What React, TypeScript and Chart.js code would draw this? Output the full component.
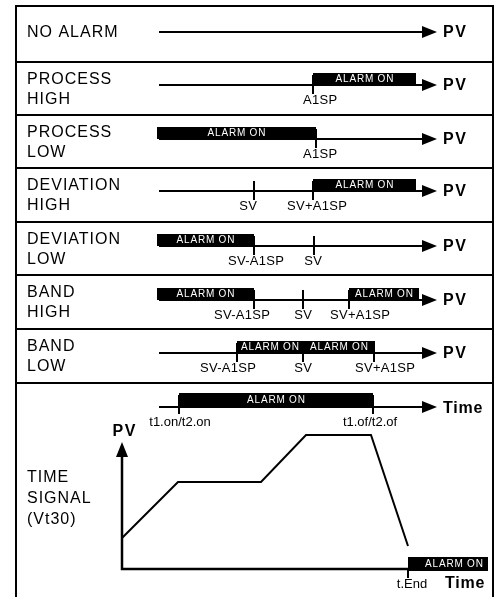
import React, { useEffect, useRef } from "react";
import { Chart, registerables } from "chart.js";
Chart.register(...registerables);

type Seg = [number, number];

// Canvas / diagram units (1 unit = 1 px)
const W = 498;
const H = 597;

// Frame
const FRAME_LEFT = 16;
const FRAME_RIGHT = 493;
const FRAME_BOTTOM = 600;
const ROW_TOPS = [6, 62, 115, 168, 222, 275, 329, 383];

// Row labels
const ROW_LABELS: string[][] = [
  ["NO ALARM"],
  ["PROCESS", "HIGH"],
  ["PROCESS", "LOW"],
  ["DEVIATION", "HIGH"],
  ["DEVIATION", "LOW"],
  ["BAND", "HIGH"],
  ["BAND", "LOW"],
  ["TIME", "SIGNAL", "(Vt30)"],
];
const ROW_LABEL_OFFSETS: number[][] = [
  [27],
  [18, 38],
  [18, 38],
  [18, 38],
  [18, 38],
  [18, 38],
  [18, 38],
  [95, 116, 137],
];

// PV axes of the alarm rows
const PV_START = 159;
const PV_TIP = 437;
const PV_LINE_Y = [32, 85, 139, 191, 246, 300, 353];
const ALARM_BARS: Seg[][] = [
  [],
  [[313, 416]],
  [[157, 316]],
  [[313, 416]],
  [[157, 254]],
  [[157, 254], [349, 419]],
  [[237, 303], [303, 375]],
];
const MARK_X: number[][] = [[], [313], [316], [254, 313], [254, 314], [254, 303, 349], [237, 303, 374]];
const MARK_TEXT: string[][] = [
  [],
  ["A1SP"],
  ["A1SP"],
  ["SV", "SV+A1SP"],
  ["SV-A1SP", "SV"],
  ["SV-A1SP", "SV", "SV+A1SP"],
  ["SV-A1SP", "SV", "SV+A1SP"],
];
const MARK_TEXT_X: number[][] = [[], [320], [320], [248, 317], [256, 313], [242, 303, 360], [228, 303, 385]];

// Time signal row
const TIME_LINE_Y = 407;
const TIME_BAR: Seg = [179, 373];
const TIME_MARK_X = [179, 373];
const TIME_MARK_TEXT = ["t1.on/t2.on", "t1.of/t2.of"];
const TIME_MARK_TEXT_X = [180, 370];

// PV vs time graph
const AXIS_X = 122;
const AXIS_BASE_Y = 569;
const AXIS_TOP_Y = 442;
const AXIS_RIGHT_X = 410;
const CURVE_T = [122, 178, 261, 306, 371, 408];
const CURVE_PV = [538, 482, 482, 435, 435, 546];
const END_BAR: Seg = [408, 488];
const END_MARK_X = 408;

const BAR_H = 12;
const FONT = "'Liberation Sans', Arial, Helvetica, sans-serif";

function lineDs(points: { x: number; y: number }[], width = 2, order = 1, cap: CanvasLineCap = "butt") {
  return {
    data: points,
    showLine: true,
    borderColor: "#000",
    backgroundColor: "#000",
    borderWidth: width,
    borderCapStyle: cap,
    borderJoinStyle: "miter" as CanvasLineJoin,
    pointRadius: 0,
    pointHoverRadius: 0,
    fill: false,
    clip: false as any,
    tension: 0,
    order,
  };
}

function buildDatasets() {
  const ds: any[] = [];
  // frame
  ds.push(
    lineDs(
      [
        { x: FRAME_LEFT, y: FRAME_BOTTOM },
        { x: FRAME_LEFT, y: ROW_TOPS[0] },
        { x: FRAME_RIGHT, y: ROW_TOPS[0] },
        { x: FRAME_RIGHT, y: FRAME_BOTTOM },
      ],
      2
    )
  );
  ROW_TOPS.slice(1).forEach((y) =>
    ds.push(lineDs([{ x: FRAME_LEFT, y }, { x: FRAME_RIGHT, y }], 2))
  );
  // alarm rows
  PV_LINE_Y.forEach((y, r) => {
    ds.push(lineDs([{ x: PV_START, y }, { x: PV_TIP - 8, y }], 2));
    ALARM_BARS[r].forEach(([a, b]) =>
      ds.push(lineDs([{ x: a, y: y - BAR_H / 2 }, { x: b, y: y - BAR_H / 2 }], BAR_H, 0))
    );
    MARK_X[r].forEach((x) => ds.push(lineDs([{ x, y: y - 10 }, { x, y: y + 9 }], 2)));
  });
  // time row
  ds.push(lineDs([{ x: PV_START, y: TIME_LINE_Y }, { x: PV_TIP - 8, y: TIME_LINE_Y }], 2));
  ds.push(
    lineDs(
      [
        { x: TIME_BAR[0], y: TIME_LINE_Y - 7 },
        { x: TIME_BAR[1], y: TIME_LINE_Y - 7 },
      ],
      14,
      0
    )
  );
  TIME_MARK_X.forEach((x) =>
    ds.push(lineDs([{ x, y: TIME_LINE_Y - 12 }, { x, y: TIME_LINE_Y + 7 }], 2))
  );
  // graph axes
  ds.push(
    lineDs(
      [
        { x: AXIS_X, y: AXIS_TOP_Y + 10 },
        { x: AXIS_X, y: AXIS_BASE_Y },
        { x: AXIS_RIGHT_X, y: AXIS_BASE_Y },
      ],
      2.5
    )
  );
  ds.push(lineDs(CURVE_T.map((t, i) => ({ x: t, y: CURVE_PV[i] })), 2));
  ds.push(
    lineDs(
      [
        { x: END_BAR[0], y: AXIS_BASE_Y + 2 - 7 },
        { x: END_BAR[1], y: AXIS_BASE_Y + 2 - 7 },
      ],
      14,
      0
    )
  );
  ds.push(lineDs([{ x: END_MARK_X, y: AXIS_BASE_Y }, { x: END_MARK_X, y: AXIS_BASE_Y + 9 }], 2));
  return ds;
}

const diagramPlugin = {
  id: "diagram",
  afterDatasetsDraw(chart: any) {
    const ctx: CanvasRenderingContext2D = chart.ctx;
    const xs = chart.scales.x;
    const ys = chart.scales.y;
    const px = (v: number) => xs.getPixelForValue(v);
    const py = (v: number) => ys.getPixelForValue(v);

    const text = (
      s: string,
      x: number,
      y: number,
      size: number,
      opts: { bold?: boolean; color?: string; align?: CanvasTextAlign; spacing?: number } = {}
    ) => {
      ctx.save();
      ctx.font = `${opts.bold ? "bold " : ""}${size}px ${FONT}`;
      ctx.fillStyle = opts.color || "#000";
      (ctx as any).letterSpacing = `${opts.spacing ?? 0}px`;
      ctx.textBaseline = "middle";
      let align = opts.align || "left";
      let xx = px(x);
      if (align === "center") {
        const w = ctx.measureText(s).width - (opts.spacing ?? 0);
        xx = xx - w / 2;
      }
      ctx.textAlign = "left";
      ctx.fillText(s, xx, py(y));
      ctx.restore();
    };

    const arrowRight = (tip: number, y: number) => {
      ctx.save();
      ctx.fillStyle = "#000";
      ctx.beginPath();
      ctx.moveTo(px(tip), py(y));
      ctx.lineTo(px(tip - 15), py(y - 6));
      ctx.lineTo(px(tip - 15), py(y + 6));
      ctx.closePath();
      ctx.fill();
      ctx.restore();
    };
    const arrowUp = (x: number, tip: number) => {
      ctx.save();
      ctx.fillStyle = "#000";
      ctx.beginPath();
      ctx.moveTo(px(x), py(tip));
      ctx.lineTo(px(x - 6), py(tip + 15));
      ctx.lineTo(px(x + 6), py(tip + 15));
      ctx.closePath();
      ctx.fill();
      ctx.restore();
    };

    // row labels
    ROW_LABELS.forEach((lines, r) =>
      lines.forEach((s, i) => text(s, 27, ROW_TOPS[r] + ROW_LABEL_OFFSETS[r][i], 16, { spacing: 1 }))
    );

    // alarm rows
    PV_LINE_Y.forEach((y, r) => {
      arrowRight(PV_TIP, y);
      text("PV", 443, y + 1, 16, { bold: true, spacing: 1.5 });
      ALARM_BARS[r].forEach(([a, b]) =>
        text("ALARM ON", (a + b) / 2, y - BAR_H / 2, 10, { color: "#fff", align: "center", spacing: 0.8 })
      );
      MARK_TEXT[r].forEach((s, i) => text(s, MARK_TEXT_X[r][i], y + 15, 13, { align: "center", spacing: 0.3 }));
    });

    // time row
    arrowRight(PV_TIP, TIME_LINE_Y);
    text("Time", 443, TIME_LINE_Y + 2, 16, { bold: true, spacing: 0.8 });
    text("ALARM ON", (TIME_BAR[0] + TIME_BAR[1]) / 2, TIME_LINE_Y - 7, 10, {
      color: "#fff",
      align: "center",
      spacing: 0.8,
    });
    TIME_MARK_TEXT.forEach((s, i) => text(s, TIME_MARK_TEXT_X[i], TIME_LINE_Y + 15, 13, { align: "center" }));

    // graph
    arrowUp(AXIS_X, AXIS_TOP_Y);
    text("PV", 124, 432, 16, { bold: true, spacing: 1.5, align: "center" });
    text("ALARM ON", (END_BAR[0] + END_BAR[1]) / 2 + 6, AXIS_BASE_Y - 5, 10, {
      color: "#fff",
      align: "center",
      spacing: 0.8,
    });
    text("t.End", 412, 584, 13, { align: "center" });
    text("Time", 445, 584, 16, { bold: true, spacing: 0.8 });
  },
};

export default function App() {
  const ref = useRef<HTMLCanvasElement | null>(null);
  useEffect(() => {
    if (!ref.current) return;
    const chart = new Chart(ref.current, {
      type: "scatter",
      data: { datasets: buildDatasets() },
      options: {
        responsive: false,
        animation: false,
        devicePixelRatio: 1,
        layout: { autoPadding: false, padding: 0 },
        scales: {
          x: { type: "linear", min: 0, max: W, display: false },
          y: { type: "linear", min: 0, max: H, reverse: true, display: false },
        },
        plugins: { legend: { display: false }, tooltip: { enabled: false } },
        events: [],
      } as any,
      plugins: [diagramPlugin],
    });
    return () => chart.destroy();
  }, []);
  return (
    <div style={{ position: "absolute", left: 0, top: 0, width: W, height: H, background: "#fff" }}>
      <canvas ref={ref} width={W} height={H} style={{ display: "block" }} />
    </div>
  );
}
